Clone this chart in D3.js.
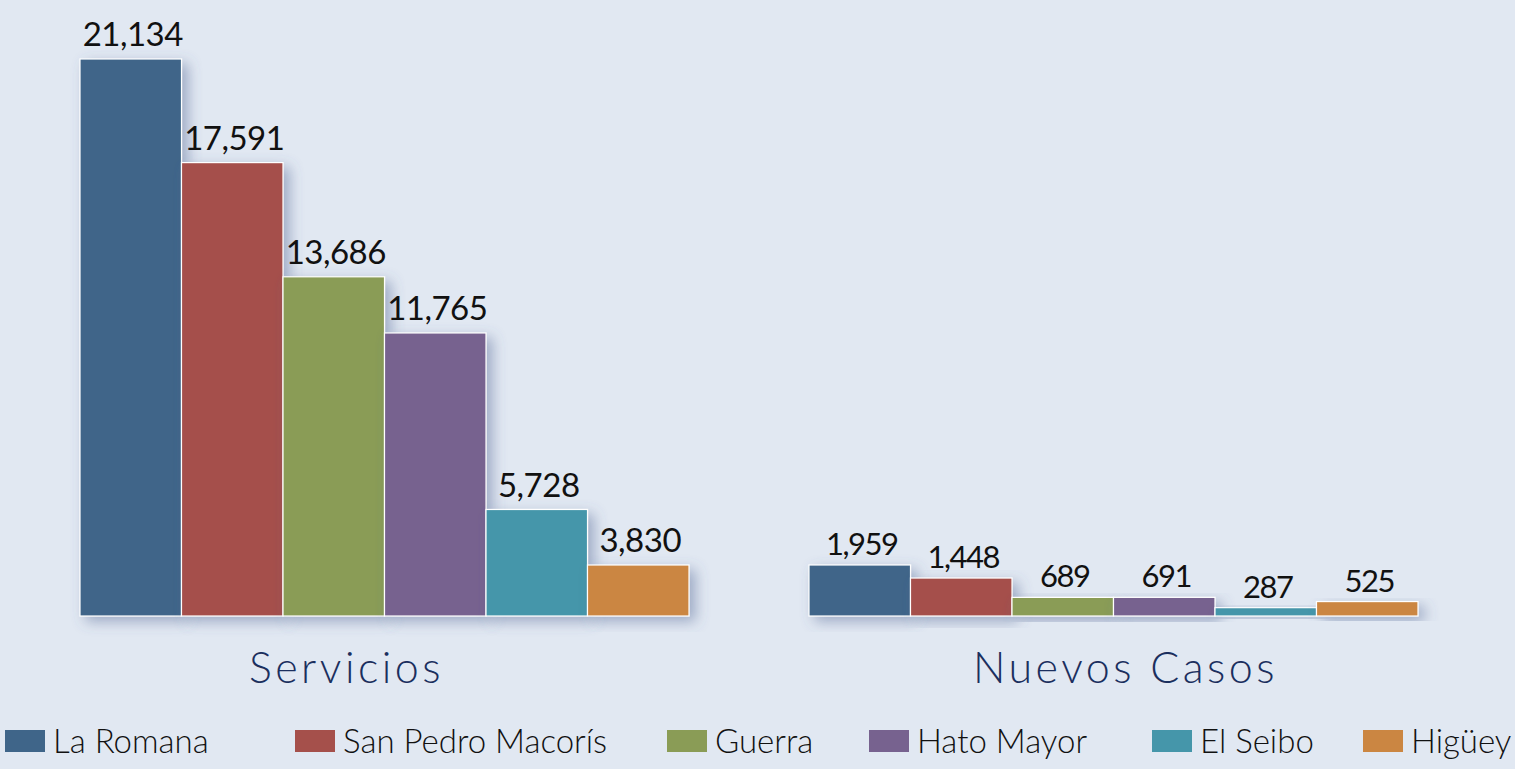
<!DOCTYPE html>
<html>
<head>
<meta charset="utf-8">
<style>
  body { margin: 0; background: #e1e8f2; }
  svg { display: block; }
</style>
</head>
<body>
<svg id="mysvg" width="1515" height="769"></svg>

<script src="https://d3js.org/d3.v7.min.js"></script>
<script>

var groups = ["Servicios", "Nuevos Casos"]
var places = ["La Romana", "San Pedro Macorís", "Guerra", "Hato Mayor", "El Seibo", "Higüey"]
var servicios = [21134, 17591, 13686, 11765, 5728, 3830]
var nuevos = [1959, 1448, 689, 691, 287, 525]
var colors = ["#3f6589", "#a5504b", "#8a9c56", "#77628f", "#4596aa", "#cb8642"]

var svg = d3.select("#mysvg")
var base = 616

// shadow under the bars and the axis
var defs = svg.append("defs")
defs.append("filter").attr("id", "shadow")
    .attr("x", "-20%").attr("y", "-20%").attr("width", "150%").attr("height", "150%")
  .append("feDropShadow")
    .attr("dx", 6).attr("dy", 5).attr("stdDeviation", 7)
    .attr("flood-color", "#4a5f8e").attr("flood-opacity", 0.45)

var x0 = d3.scaleBand().domain(groups).range([80, 1418]).paddingInner(0.1646)
var x1 = d3.scaleBand().domain(places).range([0, x0.bandwidth()])

// the original chart uses its own scale for each group
var yScales = {
  "Servicios": d3.scaleLinear().domain([2086, 21134]).range([base, 59]),
  "Nuevos Casos": d3.scaleLinear().domain([-40, 1959]).range([base, 565])
}

var rows = [servicios, nuevos]
var fmt = d3.format(",")

groups.forEach(function(g, gi){
  var y = yScales[g]
  var data = rows[gi].map(function(v, i){ return {place: places[i], value: v, color: colors[i]} })
  var gg = svg.append("g").attr("transform", "translate(" + x0(g) + ",0)")

  gg.selectAll("rect").data(data).enter().append("rect")
    .attr("x", function(d){ return x1(d.place) })
    .attr("y", function(d){ return y(d.value) })
    .attr("width", x1.bandwidth())
    .attr("height", function(d){ return base - y(d.value) })
    .attr("fill", function(d){ return d.color })
    .attr("stroke", "#ffffff")
    .attr("stroke-width", 1.2)
    .attr("filter", "url(#shadow)")

  gg.selectAll("text.val").data(data).enter().append("text")
    .attr("class", "val")
    .attr("x", function(d){ return x1(d.place) + x1.bandwidth() / 2 + 2 })
    .attr("y", function(d){ return y(d.value) - (gi == 0 ? 13 : 10) })
    .attr("text-anchor", "middle")
    .style("font-family", "Lato, sans-serif")
    .style("font-size", gi == 0 ? "33px" : "31px")
    .style("letter-spacing", gi == 0 ? "-0.5px" : "-1.5px")
    .attr("fill", "#111")
    .text(function(d){ return fmt(d.value) })

  svg.append("text")
    .attr("x", x0(g) + x0.bandwidth() / 2 - 38 + gi * 50)
    .attr("y", 683)
    .attr("text-anchor", "middle")
    .style("font-family", "Lato, sans-serif")
    .style("font-weight", 300)
    .style("font-size", "43px")
    .style("letter-spacing", "3.5px")
    .attr("fill", "#1b2f5e")
    .text(g)
})

// axis line
svg.append("line")
  .attr("x1", 5).attr("x2", 1476)
  .attr("y1", 625).attr("y2", 625)
  .attr("stroke", "#1b2f5e")
  .attr("stroke-width", 5)
  .attr("filter", "url(#shadow)")

// legend
var legendX = [5, 295, 667, 869, 1152, 1363]
var legend = svg.selectAll("g.leg").data(places).enter().append("g")
  .attr("class", "leg")
  .attr("transform", function(d, i){ return "translate(" + legendX[i] + ",730)" })

legend.append("rect")
  .attr("width", 40).attr("height", 22)
  .attr("fill", function(d, i){ return colors[i] })

legend.append("text")
  .attr("x", 48).attr("y", 23)
  .style("font-family", "Lato, sans-serif")
  .style("font-weight", 300)
  .style("font-size", "33px")
  .attr("fill", "#111")
  .text(function(d){ return d })

</script>
</body>
</html>
